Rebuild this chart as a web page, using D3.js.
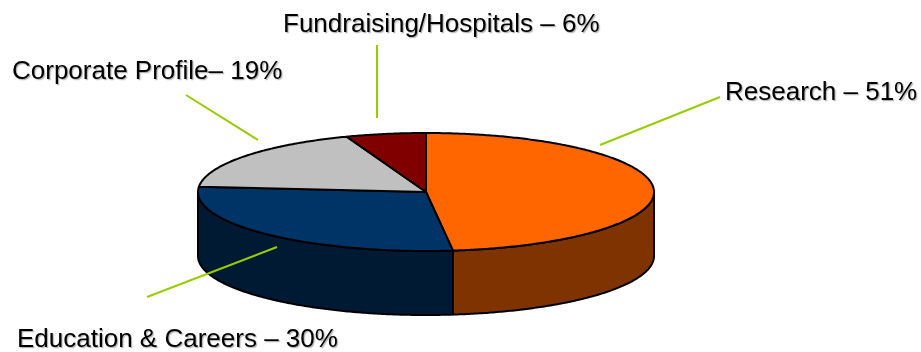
<!DOCTYPE html>
<html>
<head>
<meta charset="utf-8">
<script src="https://cdn.jsdelivr.net/npm/d3@7"></script>
<style>
  html, body { margin: 0; padding: 0; background: #fff; }
  svg { display: block; }
  text { font-family: "Liberation Sans", Arial, sans-serif; }
</style>
</head>
<body>
<svg id="chart" width="921" height="352"></svg>
<script>
// Budget share by area
const categories = ["Research", "Education & Careers", "Corporate Profile", "Fundraising/Hospitals"];
const shares = [51, 30, 19, 6];
const labels = ["Research – 51%", "Education & Careers – 30%", "Corporate Profile– 19%", "Fundraising/Hospitals – 6%"];

// Face and wall colours for each slice
const topColors  = ["#FF6600", "#003366", "#C0C0C0", "#800000"];
const sideColors = ["#7F3300", "#001A33", "#606060", "#400000"];

// Label placement: text anchor point and leader line ends
const labelLayout = [
  { tx: 725, ty: 100, line: [[720, 97], [600, 145]] },
  { tx: 17,  ty: 347, line: [[147, 297], [277, 247]] },
  { tx: 12,  ty: 79,  line: [[186, 95], [258, 140]] },
  { tx: 283, ty: 32,  line: [[377, 45], [377, 118]] }
];

const svg = d3.select("#chart");

// Elliptical pie geometry
const cx = 426, cy = 192, rx = 228, ry = 59, depth = 64;
const xs = d3.scaleLinear().domain([-1, 1]).range([cx - rx, cx + rx]);
const ys = d3.scaleLinear().domain([-1, 1]).range([cy - ry, cy + ry]);
const pt = (a, dy = 0) => [xs(Math.sin(a)), ys(-Math.cos(a)) + dy];

const arcs = d3.pie().sort(null).value(d => d)(shares);
const line = d3.line();

function arcPoints(a0, a1, dy) {
  const n = Math.max(2, Math.ceil(Math.abs(a1 - a0) / 0.01));
  return d3.range(n + 1).map(i => pt(a0 + (a1 - a0) * i / n, dy));
}

// Text shadow
const defs = svg.append("defs");
const f = defs.append("filter").attr("id", "shadow").attr("x", "-5%").attr("y", "-20%").attr("width", "110%").attr("height", "150%");
f.append("feDropShadow").attr("dx", 1.2).attr("dy", 1.2).attr("stdDeviation", 0.6)
  .attr("flood-color", "#000").attr("flood-opacity", 0.3);

// Front walls (visible half of the rim: angles PI/2..3PI/2)
const walls = svg.append("g");
arcs.forEach((d, i) => {
  const a0 = Math.max(d.startAngle, Math.PI / 2);
  const a1 = Math.min(d.endAngle, 3 * Math.PI / 2);
  if (a1 <= a0) return;
  const pts = arcPoints(a0, a1, 0).concat(arcPoints(a1, a0, depth));
  walls.append("path")
    .attr("d", line(pts) + "Z")
    .attr("fill", sideColors[i])
    .attr("stroke", "#000").attr("stroke-width", 2).attr("stroke-linejoin", "round");
});

// Top faces
const tops = svg.append("g");
arcs.forEach((d, i) => {
  const pts = [[cx, cy]].concat(arcPoints(d.startAngle, d.endAngle, 0));
  tops.append("path")
    .attr("d", line(pts) + "Z")
    .attr("fill", topColors[i])
    .attr("stroke", "#000").attr("stroke-width", 2).attr("stroke-linejoin", "round");
});

// Leader lines, drawn over the pie
svg.append("g").selectAll("line")
  .data(labelLayout)
  .join("line")
  .attr("x1", d => d.line[0][0]).attr("y1", d => d.line[0][1])
  .attr("x2", d => d.line[1][0]).attr("y2", d => d.line[1][1])
  .attr("stroke", "#99CC00").attr("stroke-width", 2);

// Labels
svg.append("g").selectAll("text")
  .data(labelLayout)
  .join("text")
  .attr("x", d => d.tx).attr("y", d => d.ty)
  .attr("font-size", 26)
  .attr("fill", "#000")
  .attr("filter", "url(#shadow)")
  .text((d, i) => labels[i]);
</script>
</body>
</html>
